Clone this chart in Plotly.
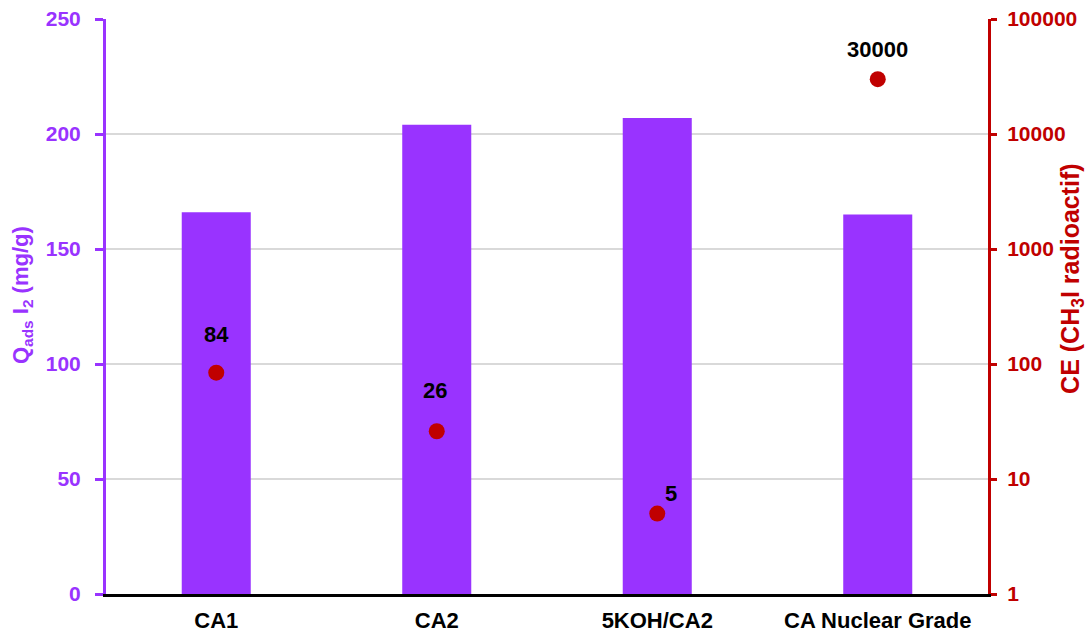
import math
import plotly.graph_objects as go

# Activated-carbon samples
categories = ["CA1", "CA2", "5KOH/CA2", "CA Nuclear Grade"]
# Iodine adsorption capacity (mg/g)
q_ads = [166, 204, 207, 165]
# Decontamination factor for radioactive CH3I
ce_values = [84, 26, 5, 30000]
ce_labels = ["84", "26", "5", "30000"]

left_ticks = [0, 50, 100, 150, 200, 250]
right_ticks = [1, 10, 100, 1000, 10000, 100000]

PURPLE = "#9933FF"
RED = "#C00000"
FONT = "Liberation Sans, Arial, sans-serif"

# label placement offsets (px) relative to each point
label_dx = [0, -2, 14, 0]
label_dy = [28, 30, 10, 19]

fig = go.Figure()

fig.add_trace(go.Bar(
    x=categories, y=q_ads,
    marker=dict(color=PURPLE, line=dict(width=0)),
    width=0.313,
    yaxis="y",
    showlegend=False,
))

fig.add_trace(go.Scatter(
    x=categories, y=ce_values,
    mode="markers",
    marker=dict(color=RED, size=16),
    yaxis="y2",
    showlegend=False,
    cliponaxis=False,
))

annotations = []
for cat, val, lab, dx, dy in zip(categories, ce_values, ce_labels, label_dx, label_dy):
    annotations.append(dict(
        x=cat, y=math.log10(val), xref="x", yref="y2",
        text=f"<b>{lab}</b>", showarrow=False,
        xanchor="center", yanchor="bottom",
        xshift=dx, yshift=dy - 4,
        font=dict(family=FONT, size=22, color="black"),
    ))

# axis titles
annotations.append(dict(
    x=0, y=0.52, xref="paper", yref="paper",
    xshift=-84, text="<b>Q<sub>ads</sub> I<sub>2</sub> (mg/g)</b>",
    textangle=-90, showarrow=False, xanchor="center", yanchor="middle",
    font=dict(family=FONT, size=22, color=PURPLE),
))
annotations.append(dict(
    x=1, y=0.548, xref="paper", yref="paper",
    xshift=84, text="<b>CE (CH<sub>3</sub>I radioactif)</b>",
    textangle=-90, showarrow=False, xanchor="center", yanchor="middle",
    font=dict(family=FONT, size=25, color=RED),
))

fig.update_layout(
    width=1090, height=633,
    margin=dict(l=106, r=102, t=19, b=39),
    paper_bgcolor="white",
    plot_bgcolor="white",
    font=dict(family=FONT),
    annotations=annotations,
    xaxis=dict(
        type="category",
        automargin=False,
        showline=True, linecolor="black", linewidth=3,
        ticks="", showgrid=False,
        tickfont=dict(family=FONT, size=22, color="black", weight="bold"),
        ticklabelstandoff=5,
    ),
    yaxis=dict(
        range=[0, 250],
        automargin=False,
        tickvals=left_ticks,
        ticktext=[str(v) for v in left_ticks],
        showline=True, linecolor=PURPLE, linewidth=3,
        ticks="outside", ticklen=8, tickwidth=3, tickcolor=PURPLE,
        showgrid=True, gridcolor="#D9D9D9", gridwidth=2,
        zeroline=False,
        tickfont=dict(family=FONT, size=21, color=PURPLE, weight="bold"),
        ticklabelstandoff=10,
    ),
    yaxis2=dict(
        type="log",
        range=[0, 5],
        overlaying="y",
        side="right",
        automargin=False,
        tickvals=right_ticks,
        ticktext=[str(v) for v in right_ticks],
        showline=True, linecolor=RED, linewidth=3,
        ticks="outside", ticklen=6, tickwidth=3, tickcolor=RED,
        showgrid=False, zeroline=False,
        tickfont=dict(family=FONT, size=21, color=RED, weight="bold"),
        ticklabelstandoff=6,
    ),
)

fig.write_html("out.html")
